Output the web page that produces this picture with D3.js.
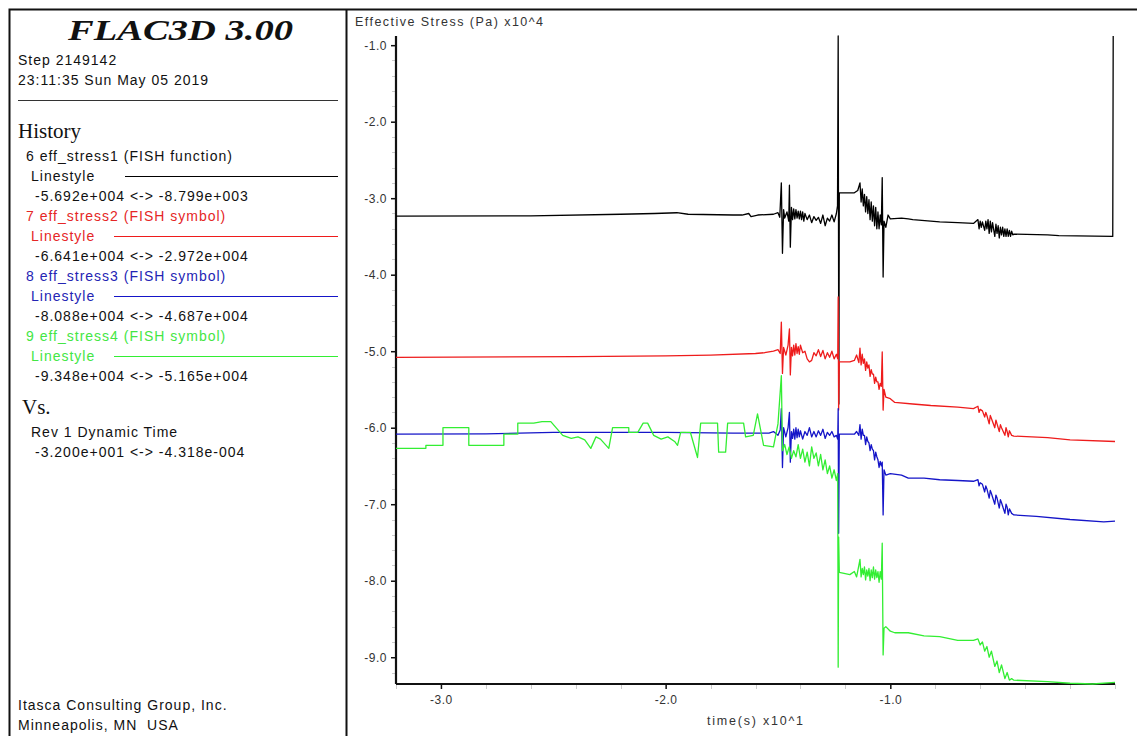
<!DOCTYPE html>
<html>
<head>
<meta charset="utf-8">
<script src="https://cdn.jsdelivr.net/npm/d3@7"></script>
<style>
  body { margin: 0; background: #fff; }
  svg { display: block; }
  text { font-family: "Liberation Sans", Arial, sans-serif; white-space: pre; }
  .serif { font-family: "Liberation Serif", "Times New Roman", serif; }
  .info { letter-spacing: 1px; }
</style>
</head>
<body>
<svg id="chart" width="1137" height="736"></svg>
<script>
// time in seconds, stress in 10^4 Pa (as on the axes)
const black = [
  [-32.0,-3.235],[-26,-3.23],[-22,-3.21],[-20.5,-3.20],[-19.5,-3.19],[-19,-3.21],[-17,-3.22],[-16.6,-3.22],
  [-16.3,-3.20],[-16.2,-3.24],[-15.9,-3.22],[-15.2,-3.21],[-15.0,-3.19],[-14.92,-3.25],[-14.85,-2.80],[-14.8,-3.72],
  [-14.75,-3.15],[-14.7,-3.26],[-14.6,-3.18],[-14.52,-3.30],[-14.49,-2.83],[-14.45,-3.64],[-14.4,-3.12],[-14.35,-3.28],
  [-14.3,-3.14],[-14.25,-3.27],[-14.2,-3.15],[-14.15,-3.26],[-14.1,-3.17],[-14.05,-3.27],[-14.0,-3.17],[-13.95,-3.28],
  [-13.9,-3.18],[-13.85,-3.30],[-13.8,-3.20],[-13.7,-3.28],[-13.6,-3.22],[-13.5,-3.32],[-13.4,-3.24],[-13.3,-3.29],
  [-13.2,-3.25],[-13.1,-3.33],[-13.0,-3.22],[-12.9,-3.36],[-12.8,-3.26],[-12.7,-3.30],[-12.6,-3.22],[-12.5,-3.31],
  [-12.4,-3.20],[-12.35,-3.10],[-12.32,-0.88],[-12.30,-4.30],[-12.29,-5.69],[-12.27,-2.93],
  [-11.6,-2.93],[-11.45,-2.90],[-11.35,-2.80],[-11.3,-3.05],[-11.25,-2.88],[-11.2,-3.10],[-11.15,-2.95],[-11.1,-3.18],
  [-11.05,-2.98],[-11.0,-3.20],[-10.95,-3.02],[-10.9,-3.28],[-10.85,-3.05],[-10.8,-3.30],[-10.75,-3.10],[-10.7,-3.36],
  [-10.65,-3.12],[-10.6,-3.40],[-10.55,-3.18],[-10.5,-3.40],[-10.45,-3.22],[-10.4,-3.35],[-10.36,-2.73],[-10.32,-4.03],
  [-10.28,-3.30],[-10.2,-3.38],[-10.1,-3.22],[-10.0,-3.27],[-9.5,-3.26],[-9.2,-3.27],[-9.0,-3.28],[-8.2,-3.30],
  [-7.8,-3.31],[-7.0,-3.32],[-6.3,-3.33],[-6.1,-3.28],[-6.05,-3.40],[-6.0,-3.30],[-5.95,-3.38],[-5.9,-3.31],
  [-5.8,-3.42],[-5.75,-3.30],[-5.7,-3.40],[-5.65,-3.28],[-5.6,-3.46],[-5.55,-3.30],[-5.5,-3.44],[-5.45,-3.32],
  [-5.35,-3.50],[-5.3,-3.34],[-5.25,-3.46],[-5.2,-3.36],[-5.15,-3.52],[-5.1,-3.38],[-5.05,-3.48],[-5.0,-3.38],
  [-4.95,-3.50],[-4.9,-3.40],[-4.85,-3.50],[-4.8,-3.40],[-4.75,-3.50],[-4.7,-3.42],[-4.65,-3.50],[-4.6,-3.43],
  [-4.55,-3.48],[-4.5,-3.47],[-3.0,-3.48],[-2.5,-3.49],[-0.1,-3.50],[-0.08,-0.88]
];
const red = [
  [-32,-5.08],[-24,-5.07],[-20,-5.06],[-18,-5.05],[-16,-5.03],[-15.6,-5.02],[-15.2,-5.00],[-15.0,-4.98],
  [-14.9,-5.03],[-14.85,-4.62],[-14.8,-5.29],[-14.75,-4.95],[-14.65,-5.05],[-14.55,-4.92],[-14.49,-4.71],[-14.45,-5.31],
  [-14.4,-4.95],[-14.35,-5.06],[-14.3,-4.92],[-14.25,-5.05],[-14.2,-4.90],[-14.15,-5.03],[-14.1,-4.94],[-14.05,-5.04],
  [-14.0,-4.92],[-13.9,-5.02],[-13.8,-5.00],[-13.7,-5.10],[-13.6,-5.14],[-13.5,-5.12],[-13.4,-5.02],[-13.3,-5.06],
  [-13.2,-4.98],[-13.1,-5.07],[-13.0,-4.99],[-12.9,-5.10],[-12.8,-5.02],[-12.7,-5.08],[-12.6,-5.00],[-12.5,-5.10],
  [-12.4,-5.04],[-12.34,-5.10],[-12.32,-4.29],[-12.30,-5.77],[-12.27,-5.14],[-11.8,-5.14],[-11.6,-5.12],[-11.5,-5.05],
  [-11.4,-5.15],[-11.35,-4.96],[-11.3,-5.18],[-11.25,-5.04],[-11.2,-5.16],[-11.15,-5.10],[-11.1,-5.25],[-11.05,-5.14],
  [-11.0,-5.22],[-10.95,-5.18],[-10.9,-5.33],[-10.85,-5.24],[-10.8,-5.30],[-10.75,-5.30],[-10.7,-5.42],[-10.65,-5.34],
  [-10.6,-5.40],[-10.55,-5.40],[-10.5,-5.50],[-10.45,-5.42],[-10.4,-5.46],[-10.36,-5.01],[-10.32,-5.77],[-10.28,-5.50],
  [-10.2,-5.60],[-10.0,-5.62],[-9.8,-5.67],[-9.0,-5.69],[-8.2,-5.71],[-7.0,-5.73],[-6.3,-5.75],[-6.1,-5.72],
  [-6.05,-5.80],[-6.0,-5.76],[-5.9,-5.78],[-5.8,-5.86],[-5.75,-5.80],[-5.7,-5.84],[-5.6,-5.95],[-5.55,-5.84],
  [-5.5,-5.88],[-5.35,-6.00],[-5.3,-5.90],[-5.25,-5.95],[-5.15,-6.05],[-5.1,-5.96],[-5.05,-6.00],[-4.9,-6.10],
  [-4.85,-6.00],[-4.8,-6.05],[-4.75,-6.12],[-4.7,-6.04],[-4.6,-6.10],[-4.5,-6.11],[-3.0,-6.13],[-2.0,-6.16],[0,-6.18]
];
const blue = [
  [-32,-6.085],[-28,-6.08],[-25,-6.06],[-20,-6.06],[-17,-6.07],[-15.4,-6.07],[-15.2,-6.05],[-15.0,-6.10],
  [-14.9,-6.03],[-14.85,-5.75],[-14.8,-6.52],[-14.75,-6.00],[-14.65,-6.12],[-14.55,-6.00],[-14.49,-5.80],[-14.45,-6.45],
  [-14.4,-6.05],[-14.35,-6.14],[-14.3,-6.02],[-14.25,-6.15],[-14.2,-6.00],[-14.15,-6.13],[-14.1,-6.02],[-14.05,-6.12],
  [-14.0,-6.04],[-13.9,-6.15],[-13.8,-6.05],[-13.7,-6.10],[-13.6,-6.00],[-13.5,-6.12],[-13.4,-6.05],[-13.3,-6.12],
  [-13.2,-6.04],[-13.1,-6.10],[-13.0,-6.02],[-12.9,-6.14],[-12.8,-6.06],[-12.7,-6.10],[-12.6,-6.05],[-12.5,-6.12],
  [-12.4,-6.10],[-12.34,-6.15],[-12.32,-5.75],[-12.30,-7.38],[-12.27,-6.085],[-11.6,-6.085],[-11.5,-6.05],[-11.4,-6.10],
  [-11.35,-5.96],[-11.3,-6.15],[-11.25,-6.02],[-11.2,-6.10],[-11.15,-6.10],[-11.1,-6.22],[-11.05,-6.12],[-11.0,-6.18],
  [-10.95,-6.20],[-10.9,-6.30],[-10.85,-6.22],[-10.8,-6.28],[-10.75,-6.30],[-10.7,-6.42],[-10.65,-6.32],[-10.6,-6.38],
  [-10.55,-6.42],[-10.5,-6.52],[-10.45,-6.44],[-10.4,-6.50],[-10.36,-6.45],[-10.32,-7.14],[-10.28,-6.55],[-10.2,-6.62],
  [-10.0,-6.60],[-9.5,-6.62],[-9.2,-6.66],[-8.5,-6.66],[-7.8,-6.68],[-7.0,-6.69],[-6.3,-6.70],[-6.1,-6.68],
  [-6.05,-6.76],[-6.0,-6.72],[-5.9,-6.74],[-5.8,-6.84],[-5.75,-6.76],[-5.7,-6.80],[-5.6,-6.92],[-5.55,-6.82],
  [-5.5,-6.86],[-5.35,-7.00],[-5.3,-6.88],[-5.25,-6.92],[-5.15,-7.05],[-5.1,-6.94],[-5.05,-6.98],[-4.9,-7.12],
  [-4.85,-7.00],[-4.8,-7.04],[-4.75,-7.14],[-4.7,-7.06],[-4.6,-7.12],[-4.5,-7.14],[-3.5,-7.16],[-2.0,-7.20],
  [-0.5,-7.23],[0,-7.22]
];
const green = [
  [-32,-6.27],[-30.67,-6.27],[-30.67,-6.23],[-29.91,-6.23],[-29.91,-6.00],[-28.76,-6.00],[-28.76,-6.23],[-27.2,-6.23],
  [-27.2,-6.085],[-26.58,-6.085],[-26.58,-5.94],[-25.87,-5.94],[-25.5,-5.92],[-25.11,-5.92],[-24.58,-6.10],[-24.2,-6.14],
  [-23.9,-6.12],[-23.6,-6.16],[-23.33,-6.27],[-23.1,-6.12],[-22.9,-6.15],[-22.53,-6.27],[-22.36,-6.00],[-21.64,-6.00],
  [-21.64,-6.06],[-21.24,-6.06],[-21.0,-5.94],[-20.8,-5.94],[-20.53,-6.10],[-20.2,-6.15],[-19.9,-6.12],[-19.6,-6.18],
  [-19.47,-6.23],[-19.33,-6.06],[-18.9,-6.06],[-18.58,-6.39],[-18.44,-5.94],[-17.69,-5.94],[-17.64,-6.32],[-17.33,-6.32],
  [-17.24,-5.94],[-16.53,-5.94],[-16.44,-6.12],[-16.1,-6.10],[-15.91,-5.82],[-15.64,-6.23],[-15.2,-6.25],[-15.0,-5.95],
  [-14.85,-5.32],[-14.8,-6.30],[-14.7,-6.22],[-14.6,-6.35],[-14.5,-6.25],[-14.4,-6.40],[-14.3,-6.30],[-14.2,-6.38],
  [-14.1,-6.22],[-14.0,-6.40],[-13.9,-6.28],[-13.8,-6.45],[-13.7,-6.32],[-13.6,-6.50],[-13.5,-6.25],[-13.4,-6.40],
  [-13.3,-6.33],[-13.2,-6.50],[-13.1,-6.35],[-13.0,-6.55],[-12.9,-6.42],[-12.8,-6.60],[-12.7,-6.50],[-12.6,-6.66],
  [-12.5,-6.55],[-12.4,-6.69],[-12.34,-6.60],[-12.32,-9.13],[-12.30,-7.43],[-12.27,-7.89],[-11.8,-7.92],[-11.6,-7.88],
  [-11.5,-7.95],[-11.4,-7.80],[-11.35,-7.72],[-11.3,-7.95],[-11.25,-7.84],[-11.2,-7.92],[-11.15,-7.82],[-11.1,-7.99],
  [-11.05,-7.86],[-11.0,-7.94],[-10.95,-7.84],[-10.9,-8.00],[-10.85,-7.86],[-10.8,-7.96],[-10.75,-7.82],[-10.7,-7.98],
  [-10.65,-7.86],[-10.6,-7.96],[-10.55,-7.88],[-10.5,-8.02],[-10.45,-7.88],[-10.4,-7.98],[-10.36,-7.51],[-10.32,-8.97],
  [-10.28,-8.62],[-10.2,-8.60],[-10.0,-8.66],[-9.8,-8.68],[-9.2,-8.68],[-8.5,-8.72],[-7.8,-8.73],[-7.0,-8.78],
  [-6.3,-8.78],[-6.1,-8.76],[-6.0,-8.84],[-5.9,-8.80],[-5.8,-8.92],[-5.7,-8.86],[-5.6,-9.00],[-5.5,-8.92],
  [-5.35,-9.12],[-5.25,-9.05],[-5.15,-9.20],[-5.05,-9.10],[-4.9,-9.28],[-4.8,-9.20],[-4.7,-9.30],[-4.6,-9.28],
  [-4.5,-9.30],[-3.0,-9.32],[-2.0,-9.34],[-1.0,-9.35],[0,-9.33]
];

const seriesNames = ["6 eff_stress1 (FISH function)", "7 eff_stress2 (FISH symbol)",
                     "8 eff_stress3 (FISH symbol)", "9 eff_stress4 (FISH symbol)"];
const seriesRanges = ["-5.692e+004 <-> -8.799e+003", "-6.641e+004 <-> -2.972e+004",
                      "-8.088e+004 <-> -4.687e+004", "-9.348e+004 <-> -5.165e+004"];
const seriesColors = ["#000000", "#ee1c1c", "#1515c8", "#33ee33"];
const textColors = ["#111111", "#e52626", "#2424b4", "#44e644"];
const yTicks = [-1, -2, -3, -4, -5, -6, -7, -8, -9];
const xTicks = [-30, -20, -10];

const svg = d3.select("#chart");
const fmt = v => d3.format(".1f")(v).replace("\u2212", "-");

// Frame
svg.append("path")
  .attr("d", "M9.5,740 V9.5 H1140 M346.5,9.5 V740")
  .attr("fill", "none").attr("stroke", "#111").attr("stroke-width", 2);

// Left panel
const left = svg.append("g");
left.append("text").attr("class", "serif").attr("x", 68).attr("y", 40)
  .attr("font-size", 30).attr("font-weight", "bold").attr("font-style", "italic")
  .attr("textLength", 225).attr("lengthAdjust", "spacingAndGlyphs").attr("fill", "#111")
  .text("FLAC3D 3.00");

function info(xp, yp, str, color) {
  return left.append("text").attr("class", "info").attr("x", xp).attr("y", yp)
    .attr("font-size", 14).attr("fill", color || "#111").text(str);
}
info(18, 65, "Step 2149142");
info(18, 85, "23:11:35 Sun May 05 2019");
left.append("line").attr("x1", 18).attr("x2", 338).attr("y1", 100.5).attr("y2", 100.5).attr("stroke", "#333");
left.append("text").attr("class", "serif").attr("x", 18).attr("y", 138).attr("font-size", 21).attr("fill", "#111").text("History");

seriesNames.forEach((name, i) => {
  const y0 = 156 + i * 60;
  info(26, y0 + 5, name, textColors[i]);
  info(31, y0 + 25, "Linestyle", textColors[i]);
  left.append("line").attr("x1", i === 0 ? 125 : 114).attr("x2", 338)
    .attr("y1", y0 + 20.5).attr("y2", y0 + 20.5)
    .attr("stroke", seriesColors[i]).attr("stroke-width", 1);
  info(35, y0 + 45, seriesRanges[i]);
});

left.append("text").attr("class", "serif").attr("x", 22).attr("y", 414).attr("font-size", 21).attr("fill", "#111").text("Vs.");
info(31, 437, "Rev 1 Dynamic Time");
info(35, 457, "-3.200e+001 <-> -4.318e-004");
info(18, 710, "Itasca Consulting Group, Inc.");
info(18, 730, "Minneapolis, MN  USA");

// Plot
const x = d3.scaleLinear().domain([-32, 0]).range([396, 1115]);
const y = d3.scaleLinear().domain([-9.35, -0.88]).range([684, 36]);

svg.append("text").attr("x", 355).attr("y", 26).attr("font-size", 12.5).attr("fill", "#333")
  .attr("textLength", 188).attr("lengthAdjust", "spacing")
  .text("Effective Stress (Pa) x10^4");
svg.append("text").attr("x", 707).attr("y", 725).attr("font-size", 12.5).attr("fill", "#333")
  .attr("textLength", 96).attr("lengthAdjust", "spacing")
  .text("time(s) x10^1");

// minor ticks
const minorY = d3.range(-9.2, -0.9, 0.2);
svg.append("g").selectAll("line").data(minorY).join("line")
  .attr("x1", 392).attr("x2", 396)
  .attr("y1", d => Math.round(y(d)) + 0.5).attr("y2", d => Math.round(y(d)) + 0.5)
  .attr("stroke", "#ccc");
const minorX = d3.range(-32, 0.1, 2);
svg.append("g").selectAll("line").data(minorX).join("line")
  .attr("x1", d => Math.round(x(d)) + 0.5).attr("x2", d => Math.round(x(d)) + 0.5)
  .attr("y1", 684).attr("y2", 689)
  .attr("stroke", "#ccc");

const yAxis = svg.append("g").attr("transform", "translate(396,0)")
  .call(d3.axisLeft(y).tickValues(yTicks).tickFormat(fmt).tickSize(5).tickPadding(4));
const xAxis = svg.append("g").attr("transform", "translate(0,684)")
  .call(d3.axisBottom(x).tickValues(xTicks).tickFormat(d => fmt(d / 10)).tickSize(5).tickPadding(6));
[yAxis, xAxis].forEach(a => {
  a.select(".domain").attr("stroke", "#111").attr("stroke-width", 2.2);
  a.selectAll(".tick line").attr("stroke", "#111").attr("stroke-width", 1.5);
  a.selectAll(".tick text").attr("font-family", "'Liberation Sans', Arial, sans-serif")
    .attr("font-size", 12).attr("fill", "#333").attr("letter-spacing", "0.5px");
});
xAxis.select(".domain").attr("d", "M396,0H1115");
yAxis.select(".domain").attr("d", "M0,36V684");

const line = d3.line().x(d => x(d[0])).y(d => y(d[1]));
[black, red, blue, green].forEach((s, i) => {
  svg.append("path").datum(s).attr("d", line)
    .attr("fill", "none").attr("stroke", seriesColors[i])
    .attr("stroke-width", 1.3).attr("stroke-linejoin", "round");
});
</script>
</body>
</html>
